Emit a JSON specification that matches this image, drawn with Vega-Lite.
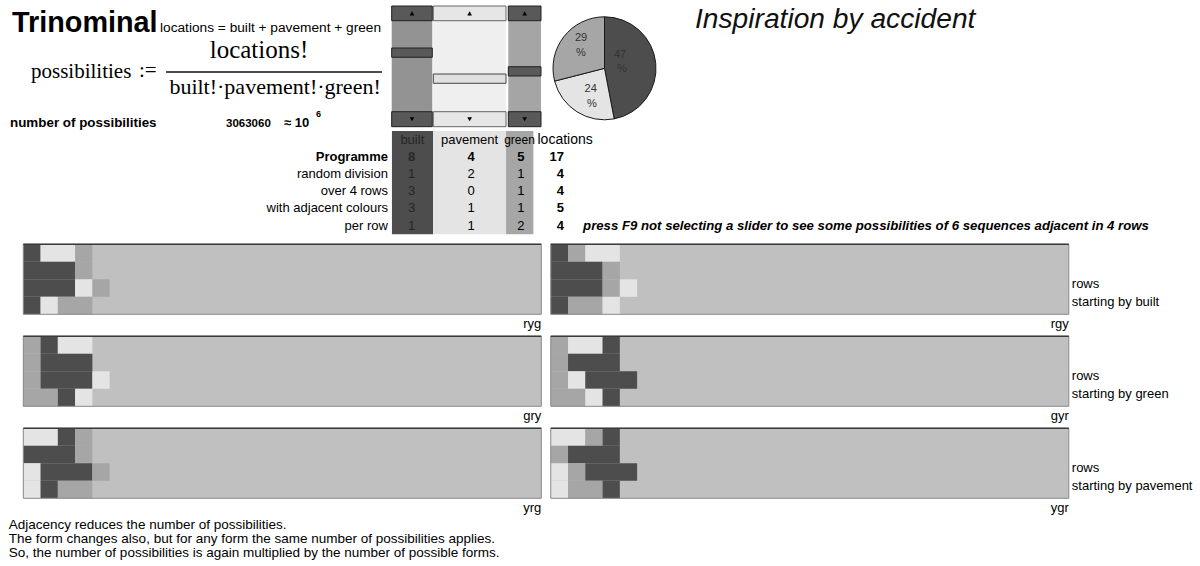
{
"$schema": "https://vega.github.io/schema/vega-lite/v6.json",
"background": "white",
"padding": 0,
"spacing": 8.3,
"config": {
  "view": {"stroke": null},
  "axis": {"disable": true},
  "legend": {"disable": true},
  "font": "Liberation Sans",
  "text": {"font": "Liberation Sans", "color": "#000"},
  "title": {"orient": "bottom", "anchor": "end", "frame": "group", "offset": 3, "fontSize": 13, "fontWeight": "normal", "font": "Liberation Sans", "color": "#000", "baseline": "top"}
},
"datasets": {
  "cells": [
    {"seq":"ryg","row":0,"start":0,"end":1,"kind":"built"},
    {"seq":"ryg","row":0,"start":1,"end":3,"kind":"pavement"},
    {"seq":"ryg","row":0,"start":3,"end":4,"kind":"green"},
    {"seq":"ryg","row":1,"start":0,"end":3,"kind":"built"},
    {"seq":"ryg","row":1,"start":3,"end":4,"kind":"green"},
    {"seq":"ryg","row":2,"start":0,"end":3,"kind":"built"},
    {"seq":"ryg","row":2,"start":3,"end":4,"kind":"pavement"},
    {"seq":"ryg","row":2,"start":4,"end":5,"kind":"green"},
    {"seq":"ryg","row":3,"start":0,"end":1,"kind":"built"},
    {"seq":"ryg","row":3,"start":1,"end":2,"kind":"pavement"},
    {"seq":"ryg","row":3,"start":2,"end":4,"kind":"green"},
    {"seq":"rgy","row":0,"start":0,"end":1,"kind":"built"},
    {"seq":"rgy","row":0,"start":1,"end":2,"kind":"green"},
    {"seq":"rgy","row":0,"start":2,"end":4,"kind":"pavement"},
    {"seq":"rgy","row":1,"start":0,"end":3,"kind":"built"},
    {"seq":"rgy","row":1,"start":3,"end":4,"kind":"green"},
    {"seq":"rgy","row":2,"start":0,"end":3,"kind":"built"},
    {"seq":"rgy","row":2,"start":3,"end":4,"kind":"green"},
    {"seq":"rgy","row":2,"start":4,"end":5,"kind":"pavement"},
    {"seq":"rgy","row":3,"start":0,"end":1,"kind":"built"},
    {"seq":"rgy","row":3,"start":1,"end":3,"kind":"green"},
    {"seq":"rgy","row":3,"start":3,"end":4,"kind":"pavement"},
    {"seq":"gry","row":0,"start":0,"end":1,"kind":"green"},
    {"seq":"gry","row":0,"start":1,"end":2,"kind":"built"},
    {"seq":"gry","row":0,"start":2,"end":4,"kind":"pavement"},
    {"seq":"gry","row":1,"start":0,"end":1,"kind":"green"},
    {"seq":"gry","row":1,"start":1,"end":4,"kind":"built"},
    {"seq":"gry","row":2,"start":0,"end":1,"kind":"green"},
    {"seq":"gry","row":2,"start":1,"end":4,"kind":"built"},
    {"seq":"gry","row":2,"start":4,"end":5,"kind":"pavement"},
    {"seq":"gry","row":3,"start":0,"end":2,"kind":"green"},
    {"seq":"gry","row":3,"start":2,"end":3,"kind":"built"},
    {"seq":"gry","row":3,"start":3,"end":4,"kind":"pavement"},
    {"seq":"gyr","row":0,"start":0,"end":1,"kind":"green"},
    {"seq":"gyr","row":0,"start":1,"end":3,"kind":"pavement"},
    {"seq":"gyr","row":0,"start":3,"end":4,"kind":"built"},
    {"seq":"gyr","row":1,"start":0,"end":1,"kind":"green"},
    {"seq":"gyr","row":1,"start":1,"end":4,"kind":"built"},
    {"seq":"gyr","row":2,"start":0,"end":1,"kind":"green"},
    {"seq":"gyr","row":2,"start":1,"end":2,"kind":"pavement"},
    {"seq":"gyr","row":2,"start":2,"end":5,"kind":"built"},
    {"seq":"gyr","row":3,"start":0,"end":2,"kind":"green"},
    {"seq":"gyr","row":3,"start":2,"end":3,"kind":"pavement"},
    {"seq":"gyr","row":3,"start":3,"end":4,"kind":"built"},
    {"seq":"yrg","row":0,"start":0,"end":2,"kind":"pavement"},
    {"seq":"yrg","row":0,"start":2,"end":3,"kind":"built"},
    {"seq":"yrg","row":0,"start":3,"end":4,"kind":"green"},
    {"seq":"yrg","row":1,"start":0,"end":3,"kind":"built"},
    {"seq":"yrg","row":1,"start":3,"end":4,"kind":"green"},
    {"seq":"yrg","row":2,"start":0,"end":1,"kind":"pavement"},
    {"seq":"yrg","row":2,"start":1,"end":4,"kind":"built"},
    {"seq":"yrg","row":2,"start":4,"end":5,"kind":"green"},
    {"seq":"yrg","row":3,"start":0,"end":1,"kind":"pavement"},
    {"seq":"yrg","row":3,"start":1,"end":2,"kind":"built"},
    {"seq":"yrg","row":3,"start":2,"end":4,"kind":"green"},
    {"seq":"ygr","row":0,"start":0,"end":2,"kind":"pavement"},
    {"seq":"ygr","row":0,"start":2,"end":3,"kind":"green"},
    {"seq":"ygr","row":0,"start":3,"end":4,"kind":"built"},
    {"seq":"ygr","row":1,"start":0,"end":1,"kind":"green"},
    {"seq":"ygr","row":1,"start":1,"end":4,"kind":"built"},
    {"seq":"ygr","row":2,"start":0,"end":1,"kind":"pavement"},
    {"seq":"ygr","row":2,"start":1,"end":2,"kind":"green"},
    {"seq":"ygr","row":2,"start":2,"end":5,"kind":"built"},
    {"seq":"ygr","row":3,"start":0,"end":1,"kind":"pavement"},
    {"seq":"ygr","row":3,"start":1,"end":3,"kind":"green"},
    {"seq":"ygr","row":3,"start":3,"end":4,"kind":"built"}
  ],
  "table": [
    {"label":"Programme","built":8,"pavement":4,"green":5,"locations":17},
    {"label":"random division","built":1,"pavement":2,"green":1,"locations":4},
    {"label":"over 4 rows","built":3,"pavement":0,"green":1,"locations":4},
    {"label":"with adjacent colours","built":3,"pavement":1,"green":1,"locations":5},
    {"label":"per row","built":1,"pavement":1,"green":2,"locations":4}
  ],
  "pie": [
    {"kind":"built","share":47},
    {"kind":"pavement","share":24},
    {"kind":"green","share":29}
  ]
},
"resolve": {"scale": {"x": "independent", "y": "independent"}},
"vconcat": [
 {
  "spacing": 0, "bounds": "flush",
  "resolve": {"scale": {"x": "independent", "y": "independent"}},
  "vconcat": [
   {
    "width": 1200, "height": 131,
    "data": {"values": [{}]},
    "layer": [
     {"mark": {"type": "text", "text": "Trinominal", "fontSize": 28.8, "fontWeight": "bold", "align": "left", "baseline": "alphabetic"},
      "encoding": {"x": {"datum": 0.695, "scale": {"domain": [0, 69.5], "nice": false, "zero": false}}, "y": {"datum": 1.811, "scale": {"domain": [0, 7.486], "reverse": true, "nice": false, "zero": false}}}},
     {"mark": {"type": "text", "text": "locations = built + pavement + green", "fontSize": 13.7, "align": "left", "baseline": "alphabetic"},
      "encoding": {"x": {"datum": 9.267}, "y": {"datum": 1.811}}},
     {"mark": {"type": "text", "text": "possibilities", "font": "Liberation Serif", "fontSize": 21, "align": "left", "baseline": "alphabetic"},
      "encoding": {"x": {"datum": 1.795}, "y": {"datum": 4.457}}},
     {"mark": {"type": "text", "text": ":=", "font": "Liberation Serif", "fontSize": 21, "align": "left", "baseline": "alphabetic"},
      "encoding": {"x": {"datum": 8.05}, "y": {"datum": 4.4}}},
     {"mark": {"type": "rule", "color": "#111", "strokeWidth": 1.5},
      "encoding": {"x": {"datum": 9.614}, "x2": {"datum": 22.124}, "y": {"datum": 4.114}}},
     {"mark": {"type": "text", "text": "locations!", "font": "Liberation Serif", "fontSize": 25, "align": "center", "baseline": "alphabetic"},
      "encoding": {"x": {"datum": 15.0}, "y": {"datum": 3.314}}},
     {"mark": {"type": "text", "text": "built!·pavement!·green!", "font": "Liberation Serif", "fontSize": 22, "align": "center", "baseline": "alphabetic"},
      "encoding": {"x": {"datum": 15.93}, "y": {"datum": 5.371}}},
     {"mark": {"type": "text", "text": "number of possibilities", "fontSize": 13.4, "fontWeight": "bold", "align": "left", "baseline": "alphabetic"},
      "encoding": {"x": {"datum": 0.579}, "y": {"datum": 7.257}}},
     {"mark": {"type": "text", "text": "3063060", "fontSize": 11.5, "fontWeight": "bold", "align": "left", "baseline": "alphabetic"},
      "encoding": {"x": {"datum": 13.09}, "y": {"datum": 7.257}}},
     {"mark": {"type": "text", "text": "≈ 10", "fontSize": 13, "fontWeight": "bold", "align": "left", "baseline": "alphabetic"},
      "encoding": {"x": {"datum": 16.45}, "y": {"datum": 7.257}}},
     {"mark": {"type": "text", "text": "6", "fontSize": 9, "fontWeight": "bold", "align": "left", "baseline": "alphabetic"},
      "encoding": {"x": {"datum": 18.3}, "y": {"datum": 6.69}}},
     {"mark": {"type": "text", "text": "Inspiration by accident", "fontSize": 28.2, "fontStyle": "italic", "align": "left", "baseline": "alphabetic", "color": "#111"},
      "encoding": {"x": {"datum": 40.25}, "y": {"datum": 1.6}}},

     {"mark": {"type": "rect", "fill": "#939393"}, "encoding": {"x": {"datum": 22.686}, "x2": {"datum": 25.037}, "y": {"datum": 0.343}, "y2": {"datum": 7.24}}},
     {"mark": {"type": "rect", "fill": "#595959", "stroke": "#222", "strokeWidth": 1}, "encoding": {"x": {"datum": 22.686}, "x2": {"datum": 25.037}, "y": {"datum": 0.343}, "y2": {"datum": 1.183}}},
     {"mark": {"type": "rect", "fill": "#595959", "stroke": "#222", "strokeWidth": 1}, "encoding": {"x": {"datum": 22.686}, "x2": {"datum": 25.037}, "y": {"datum": 6.383}, "y2": {"datum": 7.24}}},
     {"mark": {"type": "rect", "fill": "#595959", "stroke": "#222", "strokeWidth": 1}, "encoding": {"x": {"datum": 22.686}, "x2": {"datum": 25.037}, "y": {"datum": 2.743}, "y2": {"datum": 3.274}}},

     {"mark": {"type": "rect", "fill": "#efefef"}, "encoding": {"x": {"datum": 25.095}, "x2": {"datum": 29.306}, "y": {"datum": 0.343}, "y2": {"datum": 7.24}}},
     {"mark": {"type": "rect", "fill": "#e6e6e6", "stroke": "#666", "strokeWidth": 1}, "encoding": {"x": {"datum": 25.095}, "x2": {"datum": 29.306}, "y": {"datum": 0.343}, "y2": {"datum": 1.183}}},
     {"mark": {"type": "rect", "fill": "#e6e6e6", "stroke": "#666", "strokeWidth": 1}, "encoding": {"x": {"datum": 25.095}, "x2": {"datum": 29.306}, "y": {"datum": 6.383}, "y2": {"datum": 7.24}}},
     {"mark": {"type": "rect", "fill": "#e0e0e0", "stroke": "#444", "strokeWidth": 1}, "encoding": {"x": {"datum": 25.095}, "x2": {"datum": 29.306}, "y": {"datum": 4.229}, "y2": {"datum": 4.76}}},

     {"mark": {"type": "rect", "fill": "#a5a5a5"}, "encoding": {"x": {"datum": 29.439}, "x2": {"datum": 31.333}, "y": {"datum": 0.343}, "y2": {"datum": 7.24}}},
     {"mark": {"type": "rect", "fill": "#595959", "stroke": "#222", "strokeWidth": 1}, "encoding": {"x": {"datum": 29.439}, "x2": {"datum": 31.333}, "y": {"datum": 0.343}, "y2": {"datum": 1.183}}},
     {"mark": {"type": "rect", "fill": "#595959", "stroke": "#222", "strokeWidth": 1}, "encoding": {"x": {"datum": 29.439}, "x2": {"datum": 31.333}, "y": {"datum": 6.383}, "y2": {"datum": 7.24}}},
     {"mark": {"type": "rect", "fill": "#595959", "stroke": "#222", "strokeWidth": 1}, "encoding": {"x": {"datum": 29.439}, "x2": {"datum": 31.333}, "y": {"datum": 3.811}, "y2": {"datum": 4.343}}},

     {"mark": {"type": "point", "shape": "triangle-up", "filled": true, "color": "#000", "size": 22, "opacity": 1}, "encoding": {"x": {"datum": 23.862}, "y": {"datum": 0.763}}},
     {"mark": {"type": "point", "shape": "triangle-up", "filled": true, "color": "#000", "size": 22, "opacity": 1}, "encoding": {"x": {"datum": 27.2}, "y": {"datum": 0.763}}},
     {"mark": {"type": "point", "shape": "triangle-up", "filled": true, "color": "#000", "size": 22, "opacity": 1}, "encoding": {"x": {"datum": 30.386}, "y": {"datum": 0.763}}},
     {"mark": {"type": "point", "shape": "triangle-down", "filled": true, "color": "#000", "size": 22, "opacity": 1}, "encoding": {"x": {"datum": 23.862}, "y": {"datum": 6.811}}},
     {"mark": {"type": "point", "shape": "triangle-down", "filled": true, "color": "#000", "size": 22, "opacity": 1}, "encoding": {"x": {"datum": 27.2}, "y": {"datum": 6.811}}},
     {"mark": {"type": "point", "shape": "triangle-down", "filled": true, "color": "#000", "size": 22, "opacity": 1}, "encoding": {"x": {"datum": 30.386}, "y": {"datum": 6.811}}},

     {"data": {"name": "pie"},
      "mark": {"type": "arc", "outerRadius": 51.5, "stroke": "#1a1a1a", "strokeWidth": 1},
      "encoding": {
        "x": {"datum": 35.011}, "y": {"datum": 3.903},
        "theta": {"field": "share", "type": "quantitative", "scale": {"range": [2.9531, 9.2363]}},
        "order": {"field": "kind", "type": "nominal", "sort": "descending"},
        "color": {"field": "kind", "type": "nominal", "scale": {"domain": ["built","pavement","green"], "range": ["#4d4d4d","#e4e4e4","#a6a6a6"]}, "legend": null}
      }},
     {"data": {"name": "pie"}, "transform": [{"filter": {"field": "kind", "equal": "built"}}],
      "mark": {"type": "text", "fontSize": 11, "color": "#333", "align": "center", "baseline": "middle"},
      "encoding": {"x": {"datum": 35.909}, "y": {"datum": 3.143}, "text": {"field": "share", "type": "quantitative"}}},
     {"data": {"name": "pie"}, "transform": [{"filter": {"field": "kind", "equal": "green"}}],
      "mark": {"type": "text", "fontSize": 11, "color": "#333", "align": "center", "baseline": "middle"},
      "encoding": {"x": {"datum": 33.65}, "y": {"datum": 2.154}, "text": {"field": "share", "type": "quantitative"}}},
     {"data": {"name": "pie"}, "transform": [{"filter": {"field": "kind", "equal": "pavement"}}],
      "mark": {"type": "text", "fontSize": 11, "color": "#333", "align": "center", "baseline": "middle"},
      "encoding": {"x": {"datum": 34.212}, "y": {"datum": 5.103}, "text": {"field": "share", "type": "quantitative"}}},
     {"mark": {"type": "text", "text": "%", "fontSize": 11, "color": "#333", "align": "center", "baseline": "middle"},
      "encoding": {"x": {"datum": 36.024}, "y": {"datum": 3.943}}},
     {"mark": {"type": "text", "text": "%", "fontSize": 11, "color": "#333", "align": "center", "baseline": "middle"},
      "encoding": {"x": {"datum": 33.65}, "y": {"datum": 3.046}}},
     {"mark": {"type": "text", "text": "%", "fontSize": 11, "color": "#333", "align": "center", "baseline": "middle"},
      "encoding": {"x": {"datum": 34.287}, "y": {"datum": 5.96}}}
    ]
   },
   {
    "width": 1200, "height": 103.2,
    "data": {"name": "table"},
    "layer": [
     {"data": {"values": [{}]}, "mark": {"type": "rect", "fill": "#4d4d4d"},
      "encoding": {"x": {"datum": 22.7, "scale": {"domain": [0, 69.5], "nice": false, "zero": false}}, "x2": {"datum": 25.08}}},
     {"data": {"values": [{}]}, "mark": {"type": "rect", "fill": "#e4e4e4"},
      "encoding": {"x": {"datum": 25.08}, "x2": {"datum": 29.31}}},
     {"data": {"values": [{}]}, "mark": {"type": "rect", "fill": "#a6a6a6"},
      "encoding": {"x": {"datum": 29.31}, "x2": {"datum": 30.89}}},
     {"data": {"values": [{}]}, "mark": {"type": "text", "text": "built", "fontSize": 13, "color": "#262626", "align": "center", "baseline": "middle"},
      "encoding": {"x": {"datum": 23.88}, "y": {"datum": "header", "type": "nominal", "scale": {"type": "band", "domain": ["header","Programme","random division","over 4 rows","with adjacent colours","per row"], "paddingInner": 0, "paddingOuter": 0}}}},
     {"data": {"values": [{}]}, "mark": {"type": "text", "text": "pavement", "fontSize": 13, "align": "center", "baseline": "middle"},
      "encoding": {"x": {"datum": 27.2}, "y": {"datum": "header", "type": "nominal"}}},
     {"data": {"values": [{}]}, "mark": {"type": "text", "text": "green", "fontSize": 12, "align": "center", "baseline": "middle"},
      "encoding": {"x": {"datum": 30.09}, "y": {"datum": "header", "type": "nominal"}}},
     {"data": {"values": [{}]}, "mark": {"type": "text", "text": "locations", "fontSize": 14, "align": "left", "baseline": "middle"},
      "encoding": {"x": {"datum": 31.13}, "y": {"datum": "header", "type": "nominal"}}},
     {"transform": [{"filter": {"field": "label", "equal": "Programme"}}],
      "mark": {"type": "text", "fontSize": 13, "fontWeight": "bold", "align": "right", "baseline": "middle"},
      "encoding": {"x": {"datum": 22.47}, "y": {"field": "label", "type": "nominal"}, "text": {"field": "label", "type": "nominal"}}},
     {"transform": [{"filter": "datum.label !== 'Programme'"}],
      "mark": {"type": "text", "fontSize": 13, "align": "right", "baseline": "middle"},
      "encoding": {"x": {"datum": 22.47}, "y": {"field": "label", "type": "nominal"}, "text": {"field": "label", "type": "nominal"}}},
     {"transform": [{"filter": {"field": "label", "equal": "Programme"}}],
      "mark": {"type": "text", "fontSize": 13, "fontWeight": "bold", "color": "#262626", "align": "center", "baseline": "middle"},
      "encoding": {"x": {"datum": 23.84}, "y": {"field": "label", "type": "nominal"}, "text": {"field": "built", "type": "quantitative"}}},
     {"transform": [{"filter": "datum.label !== 'Programme'"}],
      "mark": {"type": "text", "fontSize": 13, "color": "#262626", "align": "center", "baseline": "middle"},
      "encoding": {"x": {"datum": 23.84}, "y": {"field": "label", "type": "nominal"}, "text": {"field": "built", "type": "quantitative"}}},
     {"transform": [{"filter": {"field": "label", "equal": "Programme"}}],
      "mark": {"type": "text", "fontSize": 13, "fontWeight": "bold", "align": "center", "baseline": "middle"},
      "encoding": {"x": {"datum": 27.28}, "y": {"field": "label", "type": "nominal"}, "text": {"field": "pavement", "type": "quantitative"}}},
     {"transform": [{"filter": "datum.label !== 'Programme'"}],
      "mark": {"type": "text", "fontSize": 13, "align": "center", "baseline": "middle"},
      "encoding": {"x": {"datum": 27.28}, "y": {"field": "label", "type": "nominal"}, "text": {"field": "pavement", "type": "quantitative"}}},
     {"transform": [{"filter": {"field": "label", "equal": "Programme"}}],
      "mark": {"type": "text", "fontSize": 13, "fontWeight": "bold", "align": "center", "baseline": "middle"},
      "encoding": {"x": {"datum": 30.17}, "y": {"field": "label", "type": "nominal"}, "text": {"field": "green", "type": "quantitative"}}},
     {"transform": [{"filter": "datum.label !== 'Programme'"}],
      "mark": {"type": "text", "fontSize": 13, "align": "center", "baseline": "middle"},
      "encoding": {"x": {"datum": 30.17}, "y": {"field": "label", "type": "nominal"}, "text": {"field": "green", "type": "quantitative"}}},
     {"mark": {"type": "text", "fontSize": 13, "fontWeight": "bold", "align": "right", "baseline": "middle"},
      "encoding": {"x": {"datum": 32.67}, "y": {"field": "label", "type": "nominal"}, "text": {"field": "locations", "type": "quantitative"}}},
     {"data": {"values": [{}]}, "mark": {"type": "text", "text": "press F9 not selecting a slider to see some possibilities of 6 sequences adjacent in 4 rows", "fontSize": 13.2, "fontWeight": "bold", "fontStyle": "italic", "align": "left", "baseline": "middle"},
      "encoding": {"x": {"datum": 33.77}, "y": {"datum": "per row", "type": "nominal"}}}
    ]
   }
  ]
 },
 {
  "spacing": 0,
  "resolve": {"scale": {"x": "independent", "y": "independent"}},
  "vconcat": [
   {
    "spacing": 0,
    "resolve": {"scale": {"x": "independent", "y": "independent"}},
    "hconcat": [
     {
      "spacing": 22, "bounds": "flush",
      "resolve": {"scale": {"x": "independent", "y": "independent"}},
      "vconcat": [
       {"width": 541.3, "height": 70, "title": {"text": "ryg"},
        "layer": [
         {"data": {"values": [{}]}, "mark": {"type": "rect", "fill": "#c0c0c0"}, "encoding": {"x": {"datum": 0, "scale": {"domain": [-1.35, 30], "nice": false, "zero": false}}, "x2": {"datum": 30}}},
         {"data": {"name": "cells"}, "transform": [{"filter": {"field": "seq", "equal": "ryg"}}], "mark": {"type": "rect"},
          "encoding": {"x": {"field": "start", "type": "quantitative"}, "x2": {"field": "end"}, "y": {"field": "row", "type": "ordinal", "scale": {"type": "band", "domain": [0,1,2,3], "paddingInner": 0, "paddingOuter": 0}}, "color": {"field": "kind", "type": "nominal", "scale": {"domain": ["built","pavement","green"], "range": ["#4d4d4d","#e4e4e4","#a6a6a6"]}, "legend": null}}},
         {"data": {"values": [{}]}, "mark": {"type": "rect", "fillOpacity": 0, "stroke": "#8a8a8a", "strokeWidth": 1}, "encoding": {"x": {"datum": 0}, "x2": {"datum": 30}}},
         {"data": {"values": [{}]}, "mark": {"type": "rule", "color": "#3a3a3a", "strokeWidth": 1.5}, "encoding": {"x": {"datum": 0}, "x2": {"datum": 30}, "y": {"datum": 0, "type": "ordinal", "bandPosition": 0}}}
        ]},
       {"width": 541.3, "height": 70, "title": {"text": "gry"},
        "layer": [
         {"data": {"values": [{}]}, "mark": {"type": "rect", "fill": "#c0c0c0"}, "encoding": {"x": {"datum": 0, "scale": {"domain": [-1.35, 30], "nice": false, "zero": false}}, "x2": {"datum": 30}}},
         {"data": {"name": "cells"}, "transform": [{"filter": {"field": "seq", "equal": "gry"}}], "mark": {"type": "rect"},
          "encoding": {"x": {"field": "start", "type": "quantitative"}, "x2": {"field": "end"}, "y": {"field": "row", "type": "ordinal", "scale": {"type": "band", "domain": [0,1,2,3], "paddingInner": 0, "paddingOuter": 0}}, "color": {"field": "kind", "type": "nominal", "scale": {"domain": ["built","pavement","green"], "range": ["#4d4d4d","#e4e4e4","#a6a6a6"]}, "legend": null}}},
         {"data": {"values": [{}]}, "mark": {"type": "rect", "fillOpacity": 0, "stroke": "#8a8a8a", "strokeWidth": 1}, "encoding": {"x": {"datum": 0}, "x2": {"datum": 30}}},
         {"data": {"values": [{}]}, "mark": {"type": "rule", "color": "#3a3a3a", "strokeWidth": 1.5}, "encoding": {"x": {"datum": 0}, "x2": {"datum": 30}, "y": {"datum": 0, "type": "ordinal", "bandPosition": 0}}}
        ]},
       {"width": 541.3, "height": 70, "title": {"text": "yrg"},
        "layer": [
         {"data": {"values": [{}]}, "mark": {"type": "rect", "fill": "#c0c0c0"}, "encoding": {"x": {"datum": 0, "scale": {"domain": [-1.35, 30], "nice": false, "zero": false}}, "x2": {"datum": 30}}},
         {"data": {"name": "cells"}, "transform": [{"filter": {"field": "seq", "equal": "yrg"}}], "mark": {"type": "rect"},
          "encoding": {"x": {"field": "start", "type": "quantitative"}, "x2": {"field": "end"}, "y": {"field": "row", "type": "ordinal", "scale": {"type": "band", "domain": [0,1,2,3], "paddingInner": 0, "paddingOuter": 0}}, "color": {"field": "kind", "type": "nominal", "scale": {"domain": ["built","pavement","green"], "range": ["#4d4d4d","#e4e4e4","#a6a6a6"]}, "legend": null}}},
         {"data": {"values": [{}]}, "mark": {"type": "rect", "fillOpacity": 0, "stroke": "#8a8a8a", "strokeWidth": 1}, "encoding": {"x": {"datum": 0}, "x2": {"datum": 30}}},
         {"data": {"values": [{}]}, "mark": {"type": "rule", "color": "#3a3a3a", "strokeWidth": 1.5}, "encoding": {"x": {"datum": 0}, "x2": {"datum": 30}, "y": {"datum": 0, "type": "ordinal", "bandPosition": 0}}}
        ]}
      ]
     },
     {
      "spacing": 22, "bounds": "flush",
      "resolve": {"scale": {"x": "independent", "y": "independent"}},
      "vconcat": [
       {"width": 525.8, "height": 70, "title": {"text": "rgy"},
        "layer": [
         {"data": {"values": [{}]}, "mark": {"type": "rect", "fill": "#c0c0c0"}, "encoding": {"x": {"datum": 0, "scale": {"domain": [-0.45, 30], "nice": false, "zero": false}}, "x2": {"datum": 30}}},
         {"data": {"name": "cells"}, "transform": [{"filter": {"field": "seq", "equal": "rgy"}}], "mark": {"type": "rect"},
          "encoding": {"x": {"field": "start", "type": "quantitative"}, "x2": {"field": "end"}, "y": {"field": "row", "type": "ordinal", "scale": {"type": "band", "domain": [0,1,2,3], "paddingInner": 0, "paddingOuter": 0}}, "color": {"field": "kind", "type": "nominal", "scale": {"domain": ["built","pavement","green"], "range": ["#4d4d4d","#e4e4e4","#a6a6a6"]}, "legend": null}}},
         {"data": {"values": [{}]}, "mark": {"type": "rect", "fillOpacity": 0, "stroke": "#8a8a8a", "strokeWidth": 1}, "encoding": {"x": {"datum": 0}, "x2": {"datum": 30}}},
         {"data": {"values": [{}]}, "mark": {"type": "rule", "color": "#3a3a3a", "strokeWidth": 1.5}, "encoding": {"x": {"datum": 0}, "x2": {"datum": 30}, "y": {"datum": 0, "type": "ordinal", "bandPosition": 0}}},
         {"data": {"values": [{}]}, "mark": {"type": "text", "text": "rows", "fontSize": 13, "align": "left", "baseline": "middle", "dx": 3, "dy": -4}, "encoding": {"x": {"datum": 30}, "y": {"datum": 2, "type": "ordinal"}}},
         {"data": {"values": [{}]}, "mark": {"type": "text", "text": "starting by built", "fontSize": 13, "align": "left", "baseline": "middle", "dx": 3, "dy": -4}, "encoding": {"x": {"datum": 30}, "y": {"datum": 3, "type": "ordinal"}}}
        ]},
       {"width": 525.8, "height": 70, "title": {"text": "gyr"},
        "layer": [
         {"data": {"values": [{}]}, "mark": {"type": "rect", "fill": "#c0c0c0"}, "encoding": {"x": {"datum": 0, "scale": {"domain": [-0.45, 30], "nice": false, "zero": false}}, "x2": {"datum": 30}}},
         {"data": {"name": "cells"}, "transform": [{"filter": {"field": "seq", "equal": "gyr"}}], "mark": {"type": "rect"},
          "encoding": {"x": {"field": "start", "type": "quantitative"}, "x2": {"field": "end"}, "y": {"field": "row", "type": "ordinal", "scale": {"type": "band", "domain": [0,1,2,3], "paddingInner": 0, "paddingOuter": 0}}, "color": {"field": "kind", "type": "nominal", "scale": {"domain": ["built","pavement","green"], "range": ["#4d4d4d","#e4e4e4","#a6a6a6"]}, "legend": null}}},
         {"data": {"values": [{}]}, "mark": {"type": "rect", "fillOpacity": 0, "stroke": "#8a8a8a", "strokeWidth": 1}, "encoding": {"x": {"datum": 0}, "x2": {"datum": 30}}},
         {"data": {"values": [{}]}, "mark": {"type": "rule", "color": "#3a3a3a", "strokeWidth": 1.5}, "encoding": {"x": {"datum": 0}, "x2": {"datum": 30}, "y": {"datum": 0, "type": "ordinal", "bandPosition": 0}}},
         {"data": {"values": [{}]}, "mark": {"type": "text", "text": "rows", "fontSize": 13, "align": "left", "baseline": "middle", "dx": 3, "dy": -4}, "encoding": {"x": {"datum": 30}, "y": {"datum": 2, "type": "ordinal"}}},
         {"data": {"values": [{}]}, "mark": {"type": "text", "text": "starting by green", "fontSize": 13, "align": "left", "baseline": "middle", "dx": 3, "dy": -4}, "encoding": {"x": {"datum": 30}, "y": {"datum": 3, "type": "ordinal"}}}
        ]},
       {"width": 525.8, "height": 70, "title": {"text": "ygr"},
        "layer": [
         {"data": {"values": [{}]}, "mark": {"type": "rect", "fill": "#c0c0c0"}, "encoding": {"x": {"datum": 0, "scale": {"domain": [-0.45, 30], "nice": false, "zero": false}}, "x2": {"datum": 30}}},
         {"data": {"name": "cells"}, "transform": [{"filter": {"field": "seq", "equal": "ygr"}}], "mark": {"type": "rect"},
          "encoding": {"x": {"field": "start", "type": "quantitative"}, "x2": {"field": "end"}, "y": {"field": "row", "type": "ordinal", "scale": {"type": "band", "domain": [0,1,2,3], "paddingInner": 0, "paddingOuter": 0}}, "color": {"field": "kind", "type": "nominal", "scale": {"domain": ["built","pavement","green"], "range": ["#4d4d4d","#e4e4e4","#a6a6a6"]}, "legend": null}}},
         {"data": {"values": [{}]}, "mark": {"type": "rect", "fillOpacity": 0, "stroke": "#8a8a8a", "strokeWidth": 1}, "encoding": {"x": {"datum": 0}, "x2": {"datum": 30}}},
         {"data": {"values": [{}]}, "mark": {"type": "rule", "color": "#3a3a3a", "strokeWidth": 1.5}, "encoding": {"x": {"datum": 0}, "x2": {"datum": 30}, "y": {"datum": 0, "type": "ordinal", "bandPosition": 0}}},
         {"data": {"values": [{}]}, "mark": {"type": "text", "text": "rows", "fontSize": 13, "align": "left", "baseline": "middle", "dx": 3, "dy": -4}, "encoding": {"x": {"datum": 30}, "y": {"datum": 2, "type": "ordinal"}}},
         {"data": {"values": [{}]}, "mark": {"type": "text", "text": "starting by pavement", "fontSize": 13, "align": "left", "baseline": "middle", "dx": 3, "dy": -4}, "encoding": {"x": {"datum": 30}, "y": {"datum": 3, "type": "ordinal"}}}
        ]}
      ]
     }
    ]
   },
   {
    "width": 1200, "height": 52.7,
    "data": {"values": [{}]},
    "mark": {"type": "text", "text": ["Adjacency reduces the number of possibilities.", "The form changes also, but for any form the same number of possibilities applies.", "So, the number of possibilities is again multiplied by the number of possible forms."], "fontSize": 13.5, "lineHeight": 14, "align": "left", "baseline": "alphabetic"},
    "encoding": {"x": {"datum": 0.51, "scale": {"domain": [0, 69.5], "nice": false, "zero": false}}, "y": {"datum": 0.755, "scale": {"domain": [0, 3.011], "reverse": true, "nice": false, "zero": false}}}
   }
  ]
 }
]
}
